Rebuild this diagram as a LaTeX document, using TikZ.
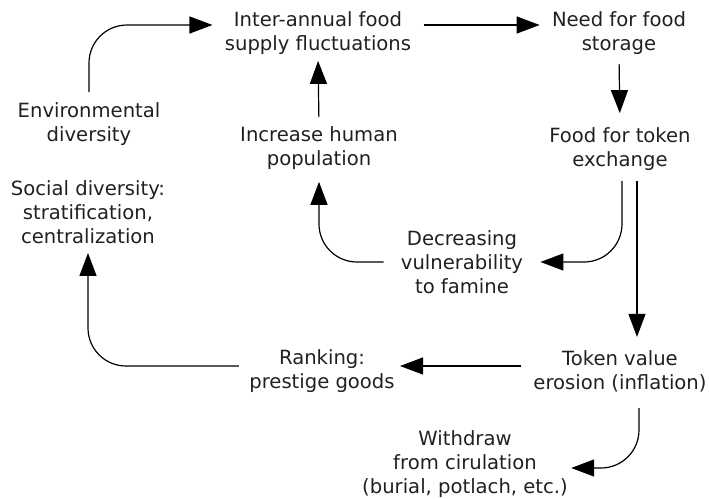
\documentclass[tikz,border=0pt]{standalone}
\usepackage{fontspec}
\setmainfont{DejaVu Sans}
\usepackage{tikz}
\usetikzlibrary{arrows.meta}
\definecolor{fcink}{HTML}{231F20}

\begin{document}
\begin{tikzpicture}[x=50pt, y=-50pt,
    font=\fontsize{9.8}{12}\selectfont, >={Triangle[length=11.5pt,width=8.5pt]},
    every node/.style={align=center, inner sep=0pt, text=fcink},
    link/.style={->, line width=0.6pt, rounded corners=19pt}]
  \useasboundingbox (0,0) rectangle (7.09,4.99);

  % --- the storage loop along the top
  \node (inter) at (3.18,0.33) {Inter-annual food\\supply fluctuations};
  \node (need) at (6.19,0.33) {Need for food\\storage};
  \node (env) at (0.89,1.24) {Environmental\\diversity};
  \node (incr) at (3.19,1.48) {Increase human\\population};
  \node (tokfood) at (6.20,1.49) {Food for token\\exchange};
  \node (social) at (0.88,2.12) {Social diversity:\\stratification,\\centralization};
  \node (decr) at (4.62,2.62) {Decreasing\\vulnerability\\to famine};

  % --- what the tokens lead to, lower half
  \node (erosion) at (6.20,3.71) {Token value\\erosion (inflation)};
  \node (rank) at (3.22,3.71) {Ranking:\\prestige goods};
  \node (withdraw) at (4.65,4.64) {Withdraw\\from cirulation\\(burial, potlach, etc.)};

  \draw[link, shorten <=5pt, shorten >=6pt] (env.north) |- ([yshift=4pt]inter.west);
  \draw[link, shorten <=6pt, shorten >=6pt] ([yshift=4pt]inter.east) -- ([yshift=4pt]need.west);
  \draw[link, shorten <=4.5pt, shorten >=7pt] (need.south) -- (tokfood.north);
  \draw[link, shorten <=4.5pt, shorten >=3pt] (incr.north) -- (inter.south);
  \draw[link, shorten <=8.5pt, shorten >=6pt] (decr.west) -| (incr.south);
  \draw[link, shorten <=5pt, shorten >=8.5pt] ([xshift=1pt]tokfood.south) |- (decr.east);
  \draw[link, shorten <=5pt, shorten >=6.5pt] ([xshift=8.5pt]tokfood.south) -- ([xshift=8.5pt]erosion.north);
  \draw[link, shorten <=6pt, shorten >=2.5pt] ([yshift=2.5pt]erosion.west) -- ([yshift=2.5pt]rank.east);
  \draw[link, shorten <=5pt, shorten >=4.5pt] ([yshift=2.5pt]rank.west) -| (social.south);
  \draw[link, shorten <=8pt, shorten >=1.5pt] ([xshift=9.5pt]erosion.south) |- ([yshift=-2pt]withdraw.east);
\end{tikzpicture}
\end{document}
